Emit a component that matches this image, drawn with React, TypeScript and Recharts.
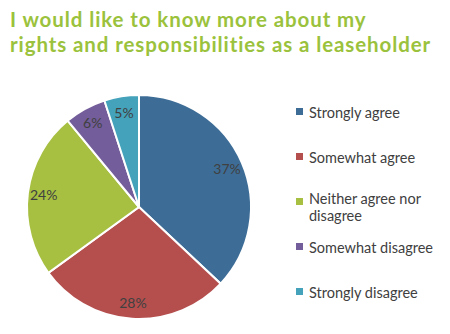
import { PieChart, Pie, Cell, Legend } from 'recharts';

const categories = ['Strongly agree', 'Somewhat agree', 'Neither agree nor disagree', 'Somewhat disagree', 'Strongly disagree'];
const shares = [37, 28, 24, 6, 5];
const colors = ['#3D6D97', '#B44F4E', '#A7C042', '#735D9A', '#45A2BB'];
const titleLines = ['I would like to know more about my', 'rights and responsibilities as a leaseholder'];

const data = categories.map((name, i) => ({ name, value: shares[i] }));

const RADIAN = Math.PI / 180;

const renderLabel = (props: any) => {
    const { cx, cy, midAngle, value } = props;
    const r = 96;
    const x = cx + r * Math.cos(-midAngle * RADIAN);
    const y = cy + r * Math.sin(-midAngle * RADIAN);
    return (
        <text x={x} y={y} fill="#404040" fontSize={14} fontFamily="Lato, sans-serif" textAnchor="middle" dominantBaseline="central">
            {value}%
        </text>
    );
};

// legend keeps the data order (recharts would sort it by name)
const renderLegend = () => (
    <div style={{ fontFamily: 'Lato, sans-serif', fontSize: 14.5, color: '#404040' }}>
        {categories.map((name, i) => (
            <div key={name} style={{ height: 45, display: 'flex', alignItems: 'center' }}>
                <span style={{ width: 7, height: 7, background: colors[i], marginRight: 6, flexShrink: 0, alignSelf: 'flex-start', marginTop: 18 }} />
                <span style={{ width: 135, lineHeight: '17px', marginTop: name.length > 20 ? 8 : 0 }}>{name}</span>
            </div>
        ))}
    </div>
);

export default function App() {
    return (
        <div style={{ position: 'absolute', left: 0, top: 0, width: 450, height: 334, background: '#fff' }}>
            {titleLines.map((line, i) => (
                <div key={line} style={{ position: 'absolute', left: 10, top: 7 + i * 25, color: '#9BC23C', fontFamily: 'Lato, sans-serif', fontWeight: 700, fontSize: 20.5, letterSpacing: 0.9, lineHeight: 'normal', whiteSpace: 'nowrap' }}>
                    {line}
                </div>
            ))}
            <PieChart width={450} height={334} margin={{ top: 0, right: 0, bottom: 0, left: 0 }}>
                <Pie
                    data={data}
                    dataKey="value"
                    nameKey="name"
                    cx={139}
                    cy={207}
                    outerRadius={112}
                    startAngle={90}
                    endAngle={-270}
                    stroke="#fff"
                    strokeWidth={2}
                    label={renderLabel}
                    labelLine={false}
                    isAnimationActive={false}
                >
                    {data.map((d, i) => (
                        <Cell key={d.name} fill={colors[i]} />
                    ))}
                </Pie>
                <Legend
                    layout="vertical"
                    align="right"
                    verticalAlign="top"
                    content={renderLegend}
                    wrapperStyle={{ left: 296, top: 90, width: 150 }}
                />
            </PieChart>
        </div>
    );
}
